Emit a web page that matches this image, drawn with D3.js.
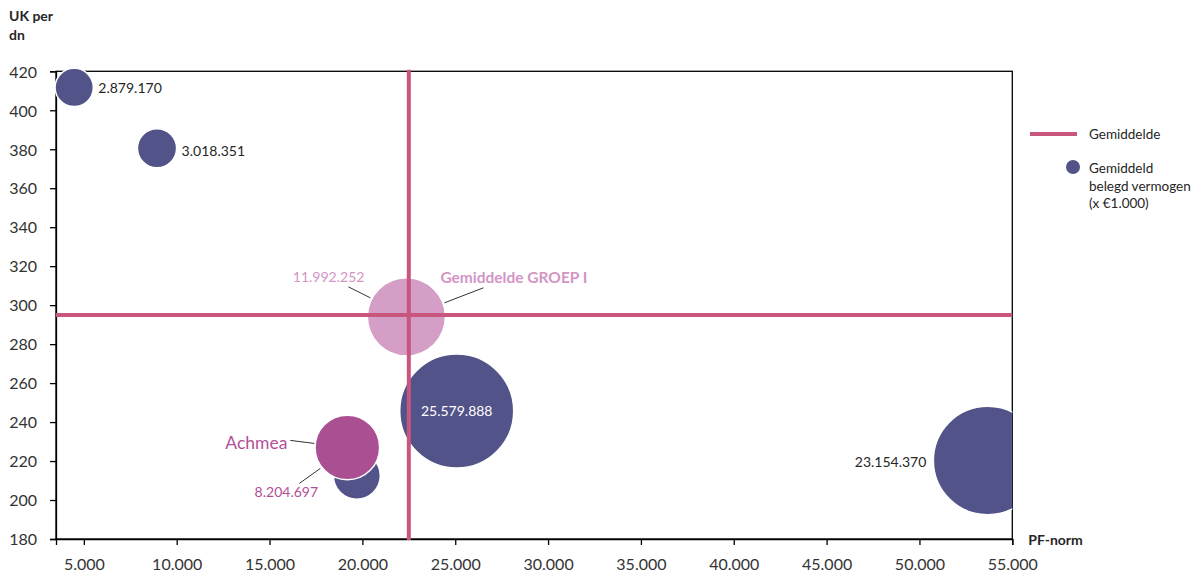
<!DOCTYPE html>
<html>
<head>
<meta charset="utf-8">
<script src="https://cdn.jsdelivr.net/npm/d3@7"></script>
<style>
  html, body { margin: 0; padding: 0; background: #fff; }
  svg { display: block; font-family: "Lato", "Open Sans", sans-serif; }
</style>
</head>
<body>
<svg id="chart" width="1198" height="577"></svg>
<script>
// Bubble data: PF-norm (x), UK per dn (y), gemiddeld belegd vermogen (size, x €1.000)
const bubbleNames = ["fonds A", "fonds B", "fonds C", "fonds D", "fonds E", "Achmea", "Gemiddelde GROEP I"];
const pfNorm      = [4480, 8940, 25080, 53670, 19700, 19190, 22370];
const ukPerDn     = [411.7, 380.5, 245.7, 220.3, 212.5, 227.0, 294.0];
const vermogen    = [2879170, 3018351, 25579888, 23154370, 4340000, 8204697, 11992252];
const showValue   = [true, true, true, true, false, true, true];

// Group averages (reference lines)
const avgPfNorm = 22500;
const avgUkPerDn = 295;

// Axis ticks
const xTicks = [5000, 10000, 15000, 20000, 25000, 30000, 35000, 40000, 45000, 50000, 55000];
const yTicks = [180, 200, 220, 240, 260, 280, 300, 320, 340, 360, 380, 400, 420];

const legendLabels = ["Gemiddelde", ["Gemiddeld", "belegd vermogen", "(x €1.000)"]];
const axisTitleY = ["UK per", "dn"];
const axisTitleX = "PF-norm";

const COLORS = {
  bubble: "#525388",
  achmea: "#ab4f93",
  group: "#d49ec6",
  avgLine: "#c8567f",
  groupText: "#d395c4",
  achmeaText: "#b34f98",
  text: "#262626",
  axis: "#000"
};

const nl = d3.formatLocale({ decimal: ",", thousands: ".", grouping: [3], currency: ["€", ""] });
const fmt = nl.format(",d");

const svg = d3.select("#chart");
const W = 1198, H = 577;
const m = { left: 56, top: 71.3, right: 185.7, bottom: 38 };
const x0 = m.left, x1 = W - m.right, y0 = H - m.bottom, y1 = m.top;

const x = d3.scaleLinear().domain([3500, 55000]).range([x0, x1]);
const y = d3.scaleLinear().domain([180, 420]).range([y0, y1]);
const r = d3.scaleSqrt().domain([0, 25579888]).range([0, 57]);

const data = bubbleNames.map((n, i) => ({
  name: n, px: pfNorm[i], py: ukPerDn[i], v: vermogen[i], show: showValue[i]
}));

// plot frame
svg.append("rect")
  .attr("x", x0).attr("y", y1).attr("width", x1 - x0).attr("height", y0 - y1)
  .attr("fill", "none").attr("stroke", COLORS.axis).attr("stroke-width", 1.3);

// axes
const xAxis = svg.append("g").attr("transform", `translate(0,${y0})`)
  .call(d3.axisBottom(x).tickValues(xTicks).tickFormat(fmt).tickSize(6).tickPadding(14));
const yAxis = svg.append("g").attr("transform", `translate(${x0},0)`)
  .call(d3.axisLeft(y).tickValues(yTicks).tickSize(6).tickPadding(13));
[xAxis, yAxis].forEach(a => {
  a.select(".domain").attr("stroke", COLORS.axis).attr("stroke-width", 1.3);
  a.selectAll(".tick line").attr("stroke", COLORS.axis).attr("stroke-width", 1.3);
  a.selectAll(".tick text").attr("fill", "#333").style("font-size", "16px")
    .style("font-family", "Lato, sans-serif");
});
yAxis.selectAll(".tick text").attr("dy", "0.36em");

// bubbles
svg.append("clipPath").attr("id", "plotClip")
  .append("rect").attr("x", 0).attr("y", 0).attr("width", x1).attr("height", H);

const bubbleOrder = [0, 1, 2, 3, 4, 5, 6];
const gB = svg.append("g").attr("clip-path", "url(#plotClip)");
gB.selectAll("circle").data(bubbleOrder.map(i => data[i])).join("circle")
  .attr("cx", d => x(d.px)).attr("cy", d => y(d.py)).attr("r", d => r(d.v))
  .attr("fill", d => d.name === "Achmea" ? COLORS.achmea
                 : d.name === "Gemiddelde GROEP I" ? COLORS.group : COLORS.bubble)
  .attr("stroke", "#fff").attr("stroke-width", 1.5);

// average lines
svg.append("line")
  .attr("x1", x0).attr("x2", x1).attr("y1", y(avgUkPerDn)).attr("y2", y(avgUkPerDn))
  .attr("stroke", COLORS.avgLine).attr("stroke-width", 4);
svg.append("line")
  .attr("x1", x(avgPfNorm)).attr("x2", x(avgPfNorm)).attr("y1", y1 - 1.5).attr("y2", y0 + 1)
  .attr("stroke", COLORS.avgLine).attr("stroke-width", 4);

// value labels
const lbl = svg.append("g").style("font-size", "14px");
function leader(x1_, y1_, x2_, y2_) {
  svg.append("line").attr("x1", x1_).attr("y1", y1_).attr("x2", x2_).attr("y2", y2_)
    .attr("stroke", "#333").attr("stroke-width", 1);
}
data.forEach(d => {
  if (!d.show) return;
  const cx = x(d.px), cy = y(d.py), rr = r(d.v);
  if (d.name === "fonds A" || d.name === "fonds B") {
    lbl.append("text").attr("x", cx + rr + 5).attr("y", cy + (d.name === "fonds B" ? 3 : 0))
      .attr("dy", "0.36em").attr("fill", COLORS.text).text(fmt(d.v));
  } else if (d.name === "fonds C") {
    lbl.append("text").attr("x", cx).attr("y", cy).attr("dy", "0.36em")
      .attr("text-anchor", "middle").attr("fill", "#fff").text(fmt(d.v));
  } else if (d.name === "fonds D") {
    lbl.append("text").attr("x", cx - rr - 7).attr("y", cy + 1).attr("dy", "0.36em")
      .attr("text-anchor", "end").attr("fill", COLORS.text).text(fmt(d.v));
  } else if (d.name === "Achmea") {
    lbl.append("text").attr("x", cx - 60).attr("y", cy - 5).attr("dy", "0.36em")
      .attr("text-anchor", "end").attr("fill", COLORS.achmeaText)
      .style("font-size", "17.5px").text(d.name);
    leader(cx - 57, cy - 7, cx - 33, cy - 4);
    lbl.append("text").attr("x", cx - 61).attr("y", cy + 45).attr("dy", "0.36em")
      .attr("text-anchor", "middle").attr("fill", COLORS.achmeaText).text(fmt(d.v));
    leader(cx - 48, cy + 36, cx - 27, cy + 21);
  } else if (d.name === "Gemiddelde GROEP I") {
    lbl.append("text").attr("x", cx - 42).attr("y", cy - 40).attr("dy", "0.36em")
      .attr("text-anchor", "end").attr("fill", COLORS.groupText).text(fmt(d.v));
    leader(cx - 58, cy - 30, cx - 36, cy - 19);
    lbl.append("text").attr("x", cx + 34).attr("y", cy - 39).attr("dy", "0.36em")
      .attr("fill", COLORS.groupText).style("font-weight", "bold")
      .style("font-size", "15.5px").text(d.name);
    leader(cx + 77, cy - 29, cx + 38, cy - 14);
  }
});

// axis titles
const ty = svg.append("text").attr("x", 9).attr("y", 21)
  .style("font-size", "14px").style("font-weight", "bold").attr("fill", "#262626");
axisTitleY.forEach((t, i) => ty.append("tspan").attr("x", 9).attr("dy", i ? 19 : 0).text(t));
svg.append("text").attr("x", x1 + 16).attr("y", y0 + 6)
  .style("font-size", "14px").style("font-weight", "bold").attr("fill", "#262626").text(axisTitleX);

// legend
const lg = svg.append("g").style("font-size", "13.5px").attr("fill", "#262626");
lg.append("line").attr("x1", 1030).attr("x2", 1077).attr("y1", 134).attr("y2", 134)
  .attr("stroke", COLORS.avgLine).attr("stroke-width", 4);
lg.append("text").attr("x", 1089).attr("y", 134).attr("dy", "0.36em").text(legendLabels[0]);
lg.append("circle").attr("cx", 1073).attr("cy", 167).attr("r", 7).attr("fill", COLORS.bubble);
const lt = lg.append("text").attr("x", 1089).attr("y", 173);
legendLabels[1].forEach((t, i) => lt.append("tspan").attr("x", 1089).attr("dy", i ? 17.5 : 0).text(t));
</script>
</body>
</html>
